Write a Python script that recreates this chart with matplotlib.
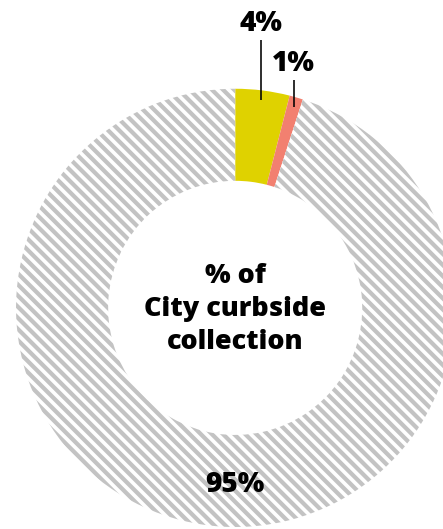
import numpy as np
import matplotlib.pyplot as plt

# share of City curbside collection
categories = ["Yellow stream", "Red stream", "Everything else"]
shares = [4, 1, 95]
labels = ["4%", "1%", "95%"]

DPI = 100
W, H = 443, 529


def px(size):
    """Convert a size in pixels to points at the figure dpi."""
    return size * 72 / DPI


plt.rcParams["font.family"] = ["Open Sans", "DejaVu Sans"]
plt.rcParams["hatch.linewidth"] = px(4.2)

fig = plt.figure(figsize=((W + 0.3) / DPI, (H + 0.3) / DPI), dpi=DPI)
ax = fig.add_axes([0, 0, 1, 1])

cx, cy = 235, H - 308
radius = 219
ring = 92

wedges, _ = ax.pie(
    shares,
    colors=["#dfd200", "#f28070", "white"],
    startangle=90,
    counterclock=False,
    center=(cx, cy),
    radius=radius,
    wedgeprops=dict(width=ring, linewidth=0),
)
wedges[2].set_hatch("\\\\\\")
wedges[2].set_edgecolor("#c3c3c3")
wedges[2].set_linewidth(0)

ax.set_xlim(0, W)
ax.set_ylim(0, H)
ax.set_aspect("equal")
ax.axis("off")

# outside labels with vertical leader lines for the small slices
total = sum(shares)
start = 0
label_tops = [H - 40, H - 80]
for i, share in enumerate(shares):
    mid = np.deg2rad((start + share / 2) / total * 360)
    start += share
    if i < 2:
        r = radius * 0.955
        x = cx + r * np.sin(mid)
        y = cy + r * np.cos(mid)
        ax.plot([x, x], [y, label_tops[i]], color="black", lw=px(1.6),
                solid_capstyle="butt")
        ax.text(x, label_tops[i] + 2, labels[i], ha="center", va="bottom",
                fontsize=px(28), fontweight="heavy")
    else:
        ax.text(cx, H - 484, labels[i], ha="center", va="center",
                fontsize=px(28), fontweight="heavy")

ax.text(cx, H - 309, "% of\nCity curbside\ncollection", ha="center",
        va="center", fontsize=px(27), fontweight="heavy", linespacing=1.35)

fig.savefig("out.png", dpi=DPI)
